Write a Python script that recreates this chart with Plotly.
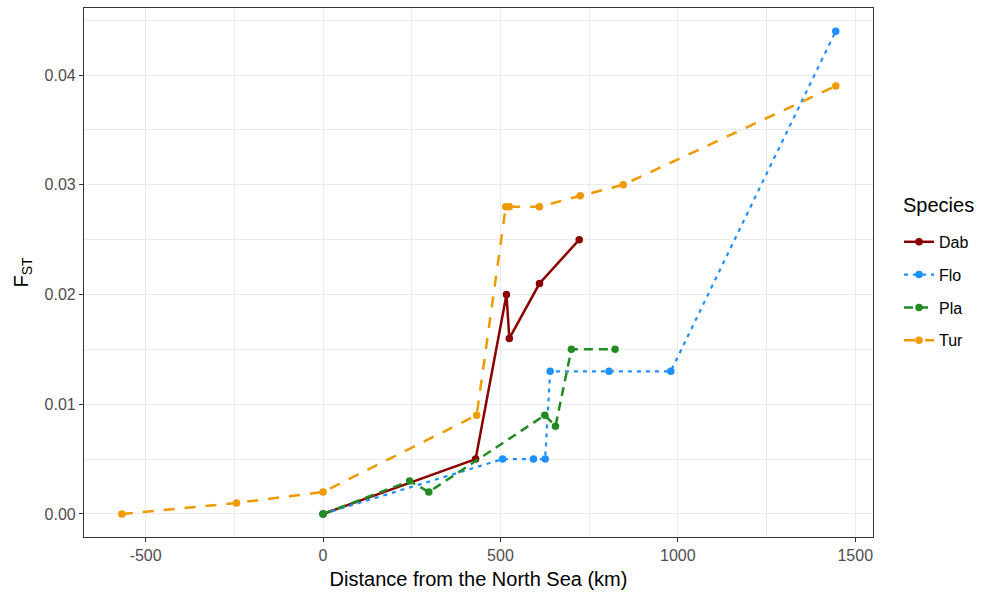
import plotly.graph_objects as go

species = ["Dab", "Flo", "Pla", "Tur"]

dab_x = [0, 430, 517, 525, 610, 722]
dab_y = [0.0, 0.005, 0.020, 0.016, 0.021, 0.025]

flo_x = [0, 506, 593, 626, 640, 806, 980, 1445]
flo_y = [0.0, 0.005, 0.005, 0.005, 0.013, 0.013, 0.013, 0.044]

pla_x = [0, 244, 298, 625, 655, 700, 823]
pla_y = [0.0, 0.003, 0.002, 0.009, 0.008, 0.015, 0.015]

tur_x = [-567, -244, 0, 433, 515, 525, 610, 725, 846, 1445]
tur_y = [0.0, 0.001, 0.002, 0.009, 0.028, 0.028, 0.028, 0.029, 0.030, 0.039]

x_ticks = [-500, 0, 500, 1000, 1500]
x_tick_labels = ["-500", "0", "500", "1000", "1500"]
y_ticks = [0.00, 0.01, 0.02, 0.03, 0.04]
y_tick_labels = ["0.00", "0.01", "0.02", "0.03", "0.04"]

colors = {"Dab": "#8B0000", "Flo": "#1E90FF", "Pla": "#228B22", "Tur": "#EE9A00"}
dashes = {"Dab": "solid", "Flo": "4px,5px", "Pla": "9px,6px", "Tur": "11px,10px"}
widths = {"Dab": 2.5, "Flo": 2.2, "Pla": 2.5, "Tur": 2.5}
data = {"Dab": (dab_x, dab_y), "Flo": (flo_x, flo_y), "Pla": (pla_x, pla_y), "Tur": (tur_x, tur_y)}

fig = go.Figure()
for sp in species:
    xs, ys = data[sp]
    fig.add_trace(go.Scatter(
        x=xs, y=ys, mode="lines+markers", name=sp, legendgroup=sp,
        line=dict(color=colors[sp], width=widths[sp], dash=dashes[sp]),
        marker=dict(color=colors[sp], size=7.5),
    ))

font = "Liberation Sans, Arial, sans-serif"
grid = "#EBEBEB"
tick_font = dict(size=16, color="#4D4D4D")
title_size = 20

fig.update_layout(
    width=983, height=596,
    margin=dict(l=84, r=110, t=8, b=59),
    paper_bgcolor="white", plot_bgcolor="white",
    font=dict(family=font, color="#000000"),
    showlegend=True,
    legend=dict(
        font=dict(size=16, color="#000000"),
        x=1.033, xanchor="left", y=0.59, yanchor="top",
        tracegroupgap=9, itemwidth=30,
        bgcolor="rgba(0,0,0,0)",
    ),
    annotations=[dict(
        text="Species", xref="paper", yref="paper",
        x=1.035, y=0.6276, xanchor="left", yanchor="middle",
        showarrow=False, font=dict(size=title_size, color="#000000"),
    )],
    xaxis=dict(
        range=[-673.8, 1550],
        tickvals=x_ticks, ticktext=x_tick_labels,
        tickfont=tick_font,
        ticks="outside", ticklen=4, tickcolor="#333333", tickwidth=1,
        showgrid=True, gridcolor=grid, gridwidth=1.2,
        minor=dict(showgrid=True, gridcolor=grid, gridwidth=0.6, tickvals=[-250, 250, 750, 1250]),
        showline=True, linecolor="#333333", linewidth=1.2, mirror=True,
        zeroline=False, automargin=False,
        title=dict(text="Distance from the North Sea (km)", font=dict(size=title_size, color="#000000"), standoff=8),
    ),
    yaxis=dict(
        range=[-0.0021, 0.04611],
        tickvals=y_ticks, ticktext=y_tick_labels,
        tickfont=tick_font,
        ticks="outside", ticklen=4, tickcolor="#333333", tickwidth=1,
        showgrid=True, gridcolor=grid, gridwidth=1.2,
        minor=dict(showgrid=True, gridcolor=grid, gridwidth=0.6,
                   tickvals=[0.005, 0.015, 0.025, 0.035, 0.045]),
        showline=True, linecolor="#333333", linewidth=1.2, mirror=True,
        zeroline=False, automargin=False,
        title=dict(text="F<sub>ST</sub>", font=dict(size=title_size, color="#000000"), standoff=10),
    ),
)

fig.write_html("out.html")
